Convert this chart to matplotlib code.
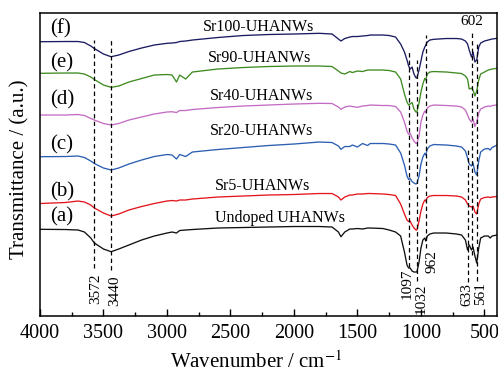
import matplotlib
matplotlib.use('Agg')
import matplotlib.pyplot as plt
from matplotlib.ticker import MultipleLocator, NullLocator

# 字体
plt.rcParams['font.family'] = ['Liberation Serif', 'DejaVu Serif']
plt.rcParams['mathtext.fontset'] = 'stix'

# 波数 (cm^-1)
wn = [4000, 3800, 3700, 3650, 3600, 3572, 3500, 3440, 3380, 3300,
      3200, 3100, 3000, 2960, 2925, 2900, 2853, 2800, 2600, 2400,
      2200, 2000, 1800, 1700, 1650, 1630, 1600, 1560, 1540, 1500,
      1460, 1420, 1400, 1300, 1250, 1200, 1160, 1130, 1110, 1097,
      1085, 1070, 1055, 1040, 1032, 1015, 1000, 985, 970, 962,
      950, 930, 900, 800, 720, 680, 650, 633, 620, 602,
      590, 575, 561, 545, 530, 500, 470, 455, 440, 400]

# 透过率 (a.u., 已加偏移)
t_a = [86.7, 86.5, 86, 84, 78, 73, 67, 64.3, 67, 71,
       76, 80, 83, 84, 83, 85.5, 86, 86.5, 88, 88.5,
       89, 89.5, 89.5, 89, 84, 79.3, 84, 87, 87, 87.5,
       87, 88, 88, 87.5, 86, 84, 80, 64, 51, 48,
       48, 45, 44, 44, 44, 54, 68, 76, 78, 75,
       80, 82, 83, 83, 82, 81, 76, 66, 71, 66,
       69, 60, 53, 68, 78, 80, 80, 78, 80, 81]
t_b = [112.5, 113.5, 115, 114, 111, 108, 103, 100, 102, 106,
       109.5, 112.5, 115, 115.5, 115, 116, 116, 117, 119, 120,
       121, 121.5, 122.5, 122.5, 119, 116, 119, 121, 121, 122,
       122, 122.5, 122.5, 122, 121.5, 120.5, 112, 102, 96, 94.5,
       95, 91, 88, 86, 86, 95, 105, 112, 116, 115,
       118.5, 120, 120.5, 120.5, 120, 119, 116, 112, 110, 109,
       110, 104, 102, 112, 117, 118.5, 119, 118.5, 119, 119.5]
t_c = [159.3, 159.5, 160, 158.5, 155, 152.5, 148, 146, 148, 152,
       156, 159.5, 161.5, 161, 157, 161.5, 159.5, 164, 166.5, 168.5,
       170.5, 172, 174, 173.5, 170, 166.7, 169.5, 169.5, 171, 169,
       172.5, 170.5, 172.5, 172.5, 172, 171, 163, 151, 140, 136.5,
       137.5, 134.5, 133, 132, 132.5, 140, 152, 159, 162.7, 161,
       167, 170, 171.5, 171, 170, 169, 165, 158, 152, 150,
       153, 144, 141, 155, 164, 167, 167.5, 166, 168.5, 171]
t_d = [201, 201, 201.5, 200.5, 197.5, 196, 192.5, 191, 192.5, 196,
       199, 202, 204, 204.3, 203.5, 205.5, 205.5, 206.5, 208.5, 210,
       211, 212, 212.7, 212.5, 209, 206.7, 209, 210, 209.5, 208.7,
       210, 210.5, 211, 210.5, 210.5, 209.5, 204, 194, 185, 181.5,
       182.7, 178, 175, 172.7, 172.5, 180, 194, 201, 205, 203.5,
       208, 210, 211, 210.5, 210, 209, 206, 201, 197, 194,
       197, 189.5, 194, 203, 207, 209, 210, 209.5, 210.5, 211]
t_e = [242.7, 243, 243, 242, 239, 236.5, 231, 228.7, 230, 234,
       237.5, 241, 241.5, 241, 234, 241, 237, 244, 247, 248.5,
       249.5, 250, 250, 249.5, 245, 243, 242, 244.5, 243.5, 245,
       244.5, 246, 246, 246, 245.5, 244, 237, 222, 214, 211,
       212, 213.5, 207, 204, 204, 213, 224, 232, 237.7, 236,
       242, 244, 244.5, 244, 243, 242.5, 240, 237, 227, 228,
       226, 220, 225, 236, 242, 244, 246, 246.5, 247, 247.7]
t_f = [274.3, 274.5, 274.5, 273.5, 270, 267.5, 262, 259.3, 261, 264.5,
       268, 271, 272.7, 273, 273.5, 274.5, 275, 276, 278.5, 280.5,
       281.5, 282, 282.7, 282, 277, 275, 277.5, 279, 279.5, 279.5,
       280, 280.5, 281, 281, 280.5, 279, 272, 264, 256, 250,
       247, 249, 242, 238.3, 238, 246, 255, 264, 269, 271,
       274, 276, 276.7, 277.5, 277.5, 277, 275, 272, 266, 259,
       264, 254, 256, 269, 273, 275, 276, 276.5, 277, 277.7]

spectra = [t_a, t_b, t_c, t_d, t_e, t_f]
colors = ['#111111', '#e3161d', '#2c5fb3', '#c46cc4', '#3f8b22', '#1b1b62']
letters = ['(a)', '(b)', '(c)', '(d)', '(e)', '(f)']
letter_y = [99, 124, 171, 216, 253, 287]
names = ['Undoped UHANWs', 'Sr5-UHANWs', 'Sr20-UHANWs',
         'Sr40-UHANWs', 'Sr90-UHANWs', 'Sr100-UHANWs']
name_x = [2620, 2620, 2660, 2660, 2680, 2720]
name_y = [98, 130, 185, 220, 258, 289]

# 特征峰 (虚线)
peaks = [3572, 3440, 1097, 1032, 962, 633, 602, 561]
peak_top = [276, 276, 266, 256, 281, 168, 286, 274]
peak_bot = [48, 46, 49, 35, 68, 34, 61, 35]
# 标注位置 (x 为文字中心的波数)
lab_x = [3565, 3415, 1109, 998, 911, 640, 602, 532]
lab_y = [43, 41, 48, 33, 66, 33, None, 34]

fig = plt.figure(figsize=(4.98, 3.72), dpi=100)
ax = fig.add_axes([0.0803, 0.1505, 0.918, 0.8145])

for t, c in zip(spectra, colors):
    ax.plot(wn, t, color=c, lw=0.95)

for p, top, bot in zip(peaks, peak_top, peak_bot):
    ax.plot([p, p], [bot, top], color='black', lw=0.9, ls=(0, (3.5, 2.5)))
for p, x, y in zip(peaks, lab_x, lab_y):
    if y is None:
        ax.text(x, 295, str(p), ha='center', va='center', fontsize=11)
    else:
        ax.text(x, y, str(p), rotation=90, ha='center', va='top', fontsize=11)

for lab, y in zip(letters, letter_y):
    ax.text(3920, y, lab, ha='left', va='center', fontsize=15)
for nm, x, y in zip(names, name_x, name_y):
    ax.text(x, y, nm, ha='left', va='center', fontsize=11.5)

ax.set_xlim(4000, 400)
ax.set_ylim(0, 303)
ax.xaxis.set_major_locator(MultipleLocator(500))
ax.xaxis.set_minor_locator(MultipleLocator(250))
ax.yaxis.set_major_locator(NullLocator())
ax.tick_params(axis='x', which='major', direction='in', length=5, width=1, labelsize=14.5, pad=6)
ax.tick_params(axis='x', which='minor', direction='in', length=3, width=1)
for s in ax.spines.values():
    s.set_linewidth(1.1)

ax.set_xlabel('Wavenumber / cm$^{-1}$', fontsize=15)
ax.xaxis.set_label_coords(0.473, -0.115)
ax.set_ylabel('Transmittance / (a.u.)', fontsize=15)
ax.yaxis.set_label_coords(-0.022, 0.485)

fig.savefig('out.png', dpi=100)
